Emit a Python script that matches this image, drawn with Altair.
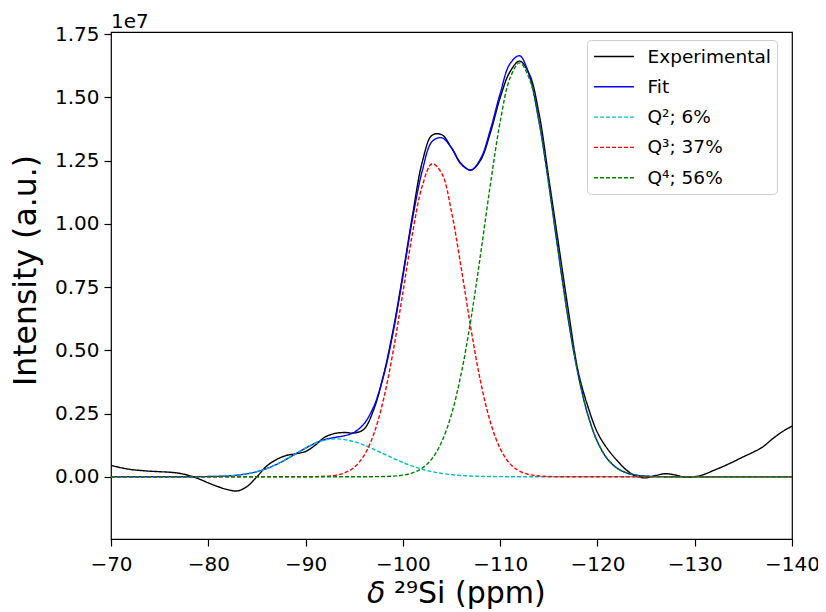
import altair as alt
import pandas as pd

# chemical shift grid (ppm), one sample per ppm from -70 to -140
ppm = list(range(-70, -141, -1))

# intensities in units of 1e7
experimental = [
    0.045, 0.036, 0.029, 0.025, 0.022, 0.020, 0.018, 0.014, 0.005, -0.008,
    -0.024, -0.039, -0.051, -0.056, -0.038, 0.000, 0.042, 0.068, 0.084, 0.091,
    0.100, 0.125, 0.157, 0.171, 0.175, 0.173, 0.188, 0.265, 0.400, 0.580,
    0.800, 1.035, 1.245, 1.350, 1.352, 1.300, 1.235, 1.213, 1.252, 1.360,
    1.498, 1.600, 1.643, 1.592, 1.435, 1.180, 0.920, 0.660, 0.420, 0.280,
    0.175, 0.112, 0.065, 0.026, 0.002, -0.004, 0.005, 0.012, 0.007, -0.002,
    0.000, 0.010, 0.026, 0.042, 0.060, 0.079, 0.097, 0.118, 0.150, 0.178,
    0.200,
]
fit = [
    0, 0, 0, 0, 0, 0, 0, 0, 0.0001, 0.0003,
    0.0008, 0.0017, 0.0034, 0.0066, 0.0119, 0.0203, 0.0325, 0.0487, 0.0687, 0.0910,
    0.1132, 0.1329, 0.1472, 0.1555, 0.1622, 0.1760, 0.2090, 0.2770, 0.3956, 0.5707,
    0.7904, 1.0211, 1.2100, 1.3250, 1.3400, 1.3000, 1.2377, 1.2117, 1.2582, 1.3724,
    1.5143, 1.6320, 1.6640, 1.5850, 1.4049, 1.1569, 0.8828, 0.6237, 0.4080, 0.2471,
    0.1386, 0.0718, 0.0345, 0.0154, 0.0063, 0.0024, 0.0009, 0.0003, 0.0001, 0,
    0, 0, 0, 0, 0, 0, 0, 0, 0, 0,
    0,
]
q2 = [
    0, 0, 0, 0, 0, 0, 0, 0, 0.0001, 0.0003,
    0.0008, 0.0017, 0.0034, 0.0066, 0.0119, 0.0203, 0.0325, 0.0487, 0.0687, 0.0910,
    0.1132, 0.1324, 0.1454, 0.1500, 0.1470, 0.1385, 0.1253, 0.1089, 0.0910, 0.0730,
    0.0563, 0.0417, 0.0297, 0.0203, 0.0133, 0.0084, 0.0051, 0.0030, 0.0017, 0.0009,
    0.0005, 0.0002, 0.0001, 0, 0, 0, 0, 0, 0, 0,
    0, 0, 0, 0, 0, 0, 0, 0, 0, 0,
    0, 0, 0, 0, 0, 0, 0, 0, 0, 0,
    0,
]
q3 = [
    0, 0, 0, 0, 0, 0, 0, 0, 0, 0,
    0, 0, 0, 0, 0, 0, 0, 0, 0, 0,
    0, 0.0005, 0.0018, 0.0055, 0.0152, 0.0375, 0.0836, 0.1678, 0.3037, 0.4953,
    0.7278, 0.9640, 1.1505, 1.2374, 1.1993, 1.0477, 0.8246, 0.5850, 0.3740, 0.2155,
    0.1118, 0.0523, 0.0221, 0.0084, 0.0029, 0.0009, 0.0003, 0, 0, 0,
    0, 0, 0, 0, 0, 0, 0, 0, 0, 0,
    0, 0, 0, 0, 0, 0, 0, 0, 0, 0,
    0,
]
q4 = [
    0, 0, 0, 0, 0, 0, 0, 0, 0, 0,
    0, 0, 0, 0, 0, 0, 0, 0, 0, 0,
    0, 0, 0, 0, 0, 0, 0.0001, 0.0003, 0.0009, 0.0024,
    0.0063, 0.0154, 0.0345, 0.0718, 0.1386, 0.2471, 0.4080, 0.6237, 0.8825, 1.1560,
    1.4020, 1.5740, 1.6360, 1.5740, 1.4020, 1.1560, 0.8825, 0.6237, 0.4080, 0.2471,
    0.1386, 0.0718, 0.0345, 0.0154, 0.0063, 0.0024, 0.0009, 0.0003, 0.0001, 0,
    0, 0, 0, 0, 0, 0, 0, 0, 0, 0,
    0,
]

series_names = ["Experimental", "Fit", "Q²; 6%", "Q³; 37%", "Q⁴; 56%"]
series_colors = ["#000000", "#0000ff", "#00bfbf", "#ff0000", "#008000"]
series_dash = [[1, 0], [1, 0], [4, 2], [4, 2], [4, 2]]
x_ticks = [-70, -80, -90, -100, -110, -120, -130, -140]
y_ticks = [0.0, 0.25, 0.5, 0.75, 1.0, 1.25, 1.5, 1.75]
offset_label = ["1e7"]

rows = []
for name, vals in zip(series_names, [experimental, fit, q2, q3, q4]):
    for x, v in zip(ppm, vals):
        rows.append({"ppm": x, "intensity": v, "series": name})
df = pd.DataFrame(rows)

FONT = "DejaVu Sans"

legend = alt.Legend(
    title=None, orient="none", legendX=476, legendY=8,
    symbolType="M-2.1,0H2.1", symbolSize=361, symbolStrokeWidth=1.4,
    symbolOffset=10.5, labelFontSize=18.5, labelFont=FONT, labelColor="black",
    labelOffset=23, rowPadding=10.3, padding=6, strokeColor="#cccccc",
    fillColor="white", cornerRadius=4,
)

lines = alt.Chart(df).mark_line(strokeWidth=1.4, interpolate="catmull-rom", clip=True).encode(
    x=alt.X("ppm:Q",
            scale=alt.Scale(domain=[-140, -70], reverse=True, nice=False, zero=False),
            axis=alt.Axis(values=x_ticks, title=None, format="d", labelFlush=False,
                          labelOverlap=False, labelPadding=8)),
    y=alt.Y("intensity:Q",
            scale=alt.Scale(domain=[-0.246, 1.758], nice=False, zero=False),
            axis=alt.Axis(values=y_ticks, format=".2f", title="Intensity (a.u.)",
                          titleFontSize=31.5, titleY=238, titlePadding=12)),
    color=alt.Color("series:N", sort=series_names,
                    scale=alt.Scale(domain=series_names, range=series_colors), legend=legend),
    strokeDash=alt.StrokeDash("series:N", sort=series_names,
                              scale=alt.Scale(domain=series_names, range=series_dash), legend=legend),
)

offset_text = alt.Chart(pd.DataFrame({"t": offset_label})).mark_text(
    align="left", baseline="alphabetic", fontSize=20, font=FONT, color="black"
).encode(text="t:N", x=alt.value(0), y=alt.value(-4))

xtitle_delta = alt.Chart(pd.DataFrame({"t": ["δ"]})).mark_text(
    align="left", baseline="alphabetic", fontSize=30, font=FONT, fontStyle="italic", color="black"
).encode(text="t:N", x=alt.value(256), y=alt.value(571))

xtitle_rest = alt.Chart(pd.DataFrame({"t": ["²⁹Si (ppm)"]})).mark_text(
    align="left", baseline="alphabetic", fontSize=30, font=FONT, color="black"
).encode(text="t:N", x=alt.value(283), y=alt.value(571))

chart = alt.layer(lines, offset_text, xtitle_delta, xtitle_rest).properties(
    width=681, height=507,
    autosize=alt.AutoSizeParams(type="none"),
    padding={"left": 103, "top": 24, "right": 26, "bottom": 72},
).configure(font=FONT).configure_view(
    stroke="black", strokeWidth=1.2
).configure_axis(
    grid=False, domain=False, tickColor="black", tickWidth=1.2, tickSize=7,
    labelFont=FONT, labelFontSize=20, labelColor="black", labelPadding=5,
    titleFont=FONT, titleFontSize=29, titleFontWeight="normal", titleColor="black",
)

chart.save("out.html", embed_options={"renderer": "svg", "actions": False})
